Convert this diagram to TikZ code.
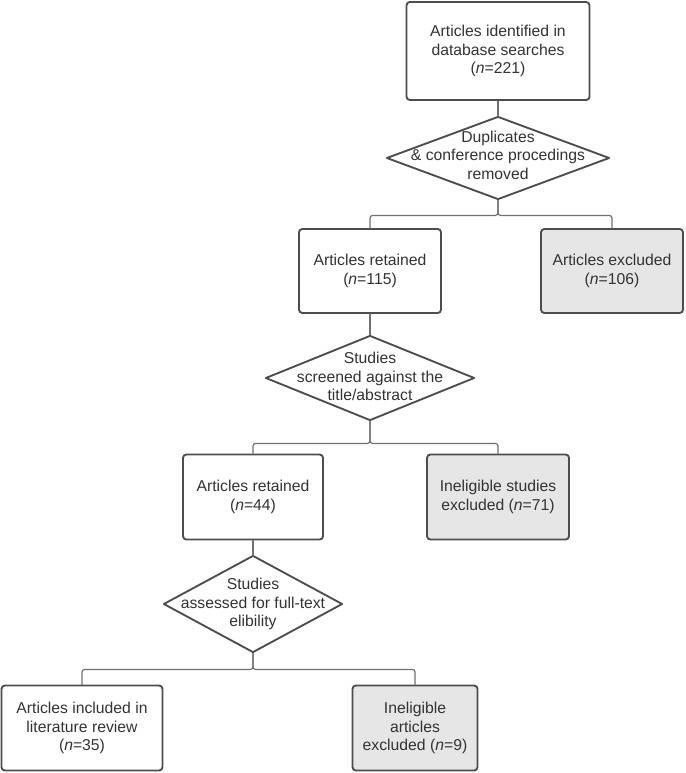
\documentclass[tikz,border=0pt]{standalone}
\usepackage{fontspec}
\setmainfont{Liberation Sans}
\usetikzlibrary{shapes.geometric}
\definecolor{edgegrey}{HTML}{4D4D4D}
\definecolor{linkgrey}{HTML}{707070}
\definecolor{outgrey}{HTML}{E6E6E6}
\definecolor{inkgrey}{HTML}{333333}
\newcommand{\flowfont}{\fontsize{11.8pt}{13.8pt}\selectfont}
\tikzset{
  stage/.style={draw=edgegrey,line width=1.4pt,rounded corners=2.5pt,align=center,
    inner sep=0pt,font=\flowfont,text=inkgrey},
  outbox/.style={stage,fill=outgrey},
  gate/.style={diamond,draw=edgegrey,line width=1.4pt,inner sep=0pt},
  gatetext/.style={font=\flowfont,text=inkgrey,align=center},
  link/.style={draw=linkgrey,line width=0.9pt,rounded corners=2pt},
}
\begin{document}
\begin{tikzpicture}[x=0.75pt,y=-0.75pt,line cap=round,line join=round]
  \useasboundingbox (0,0) rectangle (685,773);
  % boxes
  \node[stage,minimum width=137.25pt,minimum height=73.5pt] (found) at (498,51)
    {Articles identified in\\database searches\\(\textit{n}=221)};
  \node[gate,minimum width=167.25pt,minimum height=62.25pt,
    label={[gatetext,yshift=2pt]center:{Duplicates\\\& conference procedings\\removed}}] (dedup) at (498,158) {};
  \node[stage,minimum width=106.5pt,minimum height=63pt] (keepA) at (370,271)
    {Articles retained\\(\textit{n}=115)};
  \node[outbox,minimum width=106.5pt,minimum height=63pt] (dropA) at (612,271)
    {Articles excluded\\(\textit{n}=106)};
  \node[gate,minimum width=156.75pt,minimum height=63.75pt,
    label={[gatetext,yshift=1pt]center:{Studies\\screened against the\\title/abstract}}] (screen) at (370,378) {};
  \node[stage,minimum width=105pt,minimum height=63.75pt] (keepB) at (253,497)
    {Articles retained\\(\textit{n}=44)};
  \node[outbox,minimum width=106.5pt,minimum height=63.75pt] (dropB) at (498,497)
    {Ineligible studies\\excluded (\textit{n}=71)};
  \node[gate,minimum width=134.25pt,minimum height=72.75pt,
    label={[gatetext]center:{Studies\\assessed for full-text\\elibility}}] (assess) at (253,604) {};
  \node[stage,minimum width=120.75pt,minimum height=63.75pt] (final) at (82,728)
    {Articles included in\\literature review\\(\textit{n}=35)};
  \node[outbox,minimum width=93.75pt,minimum height=63.75pt] (dropC) at (415,728)
    {Ineligible\\articles\\excluded (\textit{n}=9)};
  % connectors
  \draw[link] (found.south) -- (dedup.north);
  \draw[link] (dedup.south) -- ++(0,15) -| (keepA.north);
  \draw[link] (dedup.south) -- ++(0,15) -| (dropA.north);
  \draw[link] (keepA.south) -- (screen.north);
  \draw[link] (screen.south) -- ++(0,22) -| (keepB.north);
  \draw[link] (screen.south) -- ++(0,22) -| (dropB.north);
  \draw[link] (keepB.south) -- (assess.north);
  \draw[link] (assess.south) -- ++(0,16) -| (final.north);
  \draw[link] (assess.south) -- ++(0,16) -| (dropC.north);
\end{tikzpicture}
\end{document}
